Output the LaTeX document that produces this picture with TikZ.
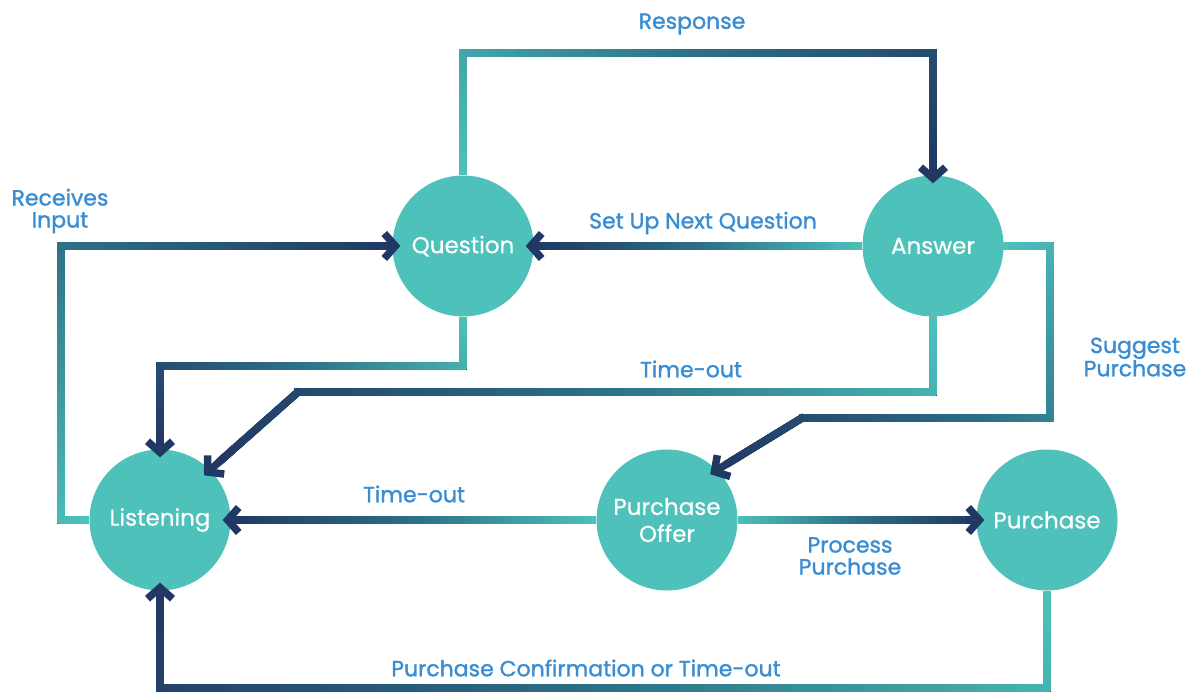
\documentclass[tikz,border=0pt]{standalone}
\usepackage{fontspec}
\setmainfont{Poppins}[FakeBold=0.5]
\newfontfamily\labfont{Poppins}[FakeBold=1.4]
\usetikzlibrary{arrows.meta,decorations.markings}
\definecolor{tealc}{HTML}{4DC1BA}
\definecolor{midc}{HTML}{2C6F86}
\definecolor{navyc}{HTML}{213864}
\definecolor{labc}{HTML}{3A8DD2}
\newcommand\gradpiece{%
  \pgfmathsetmacro\gf{(\pgfkeysvalueof{/pgf/decoration/mark info/distance from start})/(\pgfdecoratedpathlength)}%
  \pgfmathtruncatemacro\gp{100*\gf}%
  \ifnum\gp<50
    \pgfmathtruncatemacro\gq{2*\gp}\colorlet{gc}{midc!\gq!tealc}%
  \else
    \pgfmathtruncatemacro\gq{min(100,2*\gp-100)}\colorlet{gc}{navyc!\gq!midc}%
  \fi
  \fill[gc] (-3.75pt,-3.75pt) rectangle (3.75pt,3.75pt);%
}
\tikzset{
  state/.style={circle, fill=tealc, minimum size=141pt, inner sep=0pt, text=white,
    font=\fontsize{23}{27}\selectfont, align=center},
  lab/.style={text=labc, font=\labfont\fontsize{22}{22}\selectfont, align=center, inner sep=0pt},
  conn/.style={draw=navyc, line width=7.5pt,
    -{Straight Barb[sharp,length=11pt,width=25pt]}, shorten >=-8pt,
    postaction={decorate},
    decoration={markings, mark=between positions 3.75pt and -13pt step 1.5pt with {\gradpiece}}},
}
\begin{document}
\begin{tikzpicture}[x=1pt,y=-1pt]
\useasboundingbox (0,0) rectangle (1190,693);
% states
\node[state] (Q) at (463,246) {Question};
\node[state] (A) at (933,246) {Answer};
\node[state] (L) at (160,520) {Listening};
\node[state] (PO) at (667,520) {Purchase\\Offer};
\node[state] (P) at (1047,520) {Purchase};
% connectors
\draw[conn] (Q.north) -- (463,53) -| (A.north);
\draw[conn] (A.west) -- (Q.east);
\draw[conn] (L.west) -- (61,520) -- (61,246) -- (Q.west);
\draw[conn] (Q.south) -- (463,366) -| (L.north);
\draw[conn] (A.south) -- (933,392) -- (298,392) -- (L.north east);
\draw[conn] (A.east) -- (1050,246) -- (1050,418) -- (802,418) -- (PO.north east);
\draw[conn] (PO.west) -- (L.east);
\draw[conn] (PO.east) -- (P.west);
\draw[conn] (P.south) |- (160,688) -- (L.south);
% labels
\node[lab] (l1) at (692,24) {Response};
\node[lab] (l2) at (60,211) {Receives\\Input};
\node[lab] (l3) at (703,223) {Set Up Next Question};
\node[lab] (l4) at (691,369) {Time-out};
\node[lab] (l5) at (1135,357) {Suggest\\Purchase};
\node[lab] (l6) at (414,494) {Time-out};
\node[lab] (l7) at (850,556) {Process\\Purchase};
\node[lab] (l8) at (586,668) {Purchase Confirmation or Time-out};
\end{tikzpicture}
\end{document}
